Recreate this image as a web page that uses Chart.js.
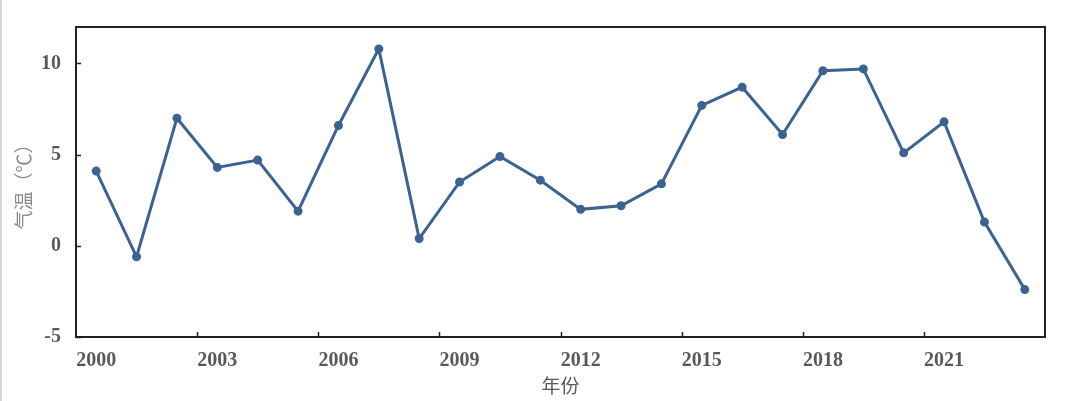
<!DOCTYPE html>
<html lang="zh">
<head>
    <meta charset="UTF-8">
    <title>气温</title>
    <script src="https://cdn.jsdelivr.net/npm/chart.js"></script>
    <style>
        html, body {
            margin: 0;
            padding: 0;
            background: #ffffff;
        }
        body {
            width: 1080px;
            height: 401px;
            overflow: hidden;
            position: relative;
        }
        .edge {
            position: absolute;
            left: 0; top: 0;
            width: 2px; height: 401px;
            background: #d4d4d4;
        }
        #chart-wrap {
            position: absolute;
            left: 0; top: 0;
            width: 1080px;
            height: 401px;
        }
    </style>
</head>
<body>
<div class="edge"></div>
<div id="chart-wrap"><canvas id="temp-chart"></canvas></div>

<script>
    // years on the x axis
    const years = ["2000","2001","2002","2003","2004","2005","2006","2007","2008","2009","2010","2011",
                   "2012","2013","2014","2015","2016","2017","2018","2019","2020","2021","2022","2023"];
    // temperature (°C)
    const temps = [4.1, -0.6, 7.0, 4.3, 4.7, 1.9, 6.6, 10.8, 0.4, 3.5, 4.9, 3.6,
                   2.0, 2.2, 3.4, 7.7, 8.7, 6.1, 9.6, 9.7, 5.1, 6.8, 1.3, -2.4];
    const yTicks = [-5, 0, 5, 10];

    const tickFont = { family: "'Liberation Serif', 'Times New Roman', serif", size: 20, weight: "bold" };
    const grey = "#595959";

    // frame around the plot and the short inward tick marks
    const frameTicks = {
        id: "frameTicks",
        afterDraw(chart) {
            const ctx = chart.ctx;
            const a = chart.chartArea;
            const x = chart.scales.x, y = chart.scales.y;
            ctx.save();
            ctx.strokeStyle = "#222222";
            ctx.lineWidth = 2;
            ctx.strokeRect(a.left, a.top, a.right - a.left, a.bottom - a.top);
            ctx.lineWidth = 1.5;
            ctx.beginPath();
            yTicks.forEach(v => {
                const py = Math.round(y.getPixelForValue(v)) + 0.5;
                ctx.moveTo(a.left, py);
                ctx.lineTo(a.left + 5, py);
            });
            const half = (x.getPixelForValue(1) - x.getPixelForValue(0)) / 2;
            for (let i = 3; i < years.length; i += 3) {
                const px = Math.round(x.getPixelForValue(i) - half) + 0.5;
                ctx.moveTo(px, a.bottom);
                ctx.lineTo(px, a.bottom - 5);
            }
            ctx.stroke();
            ctx.restore();
        }
    };

    new Chart(document.getElementById("temp-chart"), {
        type: "line",
        data: {
            labels: years,
            datasets: [{
                data: temps,
                borderColor: "#3b6291",
                backgroundColor: "#3b6291",
                borderWidth: 3,
                pointRadius: 3,
                pointHoverRadius: 3,
                tension: 0
            }]
        },
        options: {
            responsive: true,
            maintainAspectRatio: false,
            animation: false,
            layout: { padding: { left: 0, right: 35, top: 25, bottom: 0 } },
            plugins: {
                legend: { display: false },
                tooltip: { enabled: false }
            },
            scales: {
                x: {
                    type: "category",
                    offset: true,
                    grid: { display: false, drawTicks: false },
                    border: { display: false },
                    ticks: {
                        autoSkip: false,
                        maxRotation: 0,
                        padding: 12,
                        color: grey,
                        font: tickFont,
                        callback: function(val, idx) { return idx % 3 === 0 ? years[idx] : ""; }
                    },
                    title: {
                        display: true,
                        text: "年份",
                        color: grey,
                        font: { family: "'Noto Sans CJK SC', serif", size: 19 },
                        padding: { top: 0, bottom: 4 }
                    },
                    afterFit: function(s) { s.height = 64; }
                },
                y: {
                    min: -5,
                    max: 12,
                    grid: { display: false, drawTicks: false },
                    border: { display: false },
                    afterBuildTicks: function(s) {
                        s.ticks = yTicks.map(v => ({ value: v }));
                    },
                    ticks: {
                        padding: 15,
                        color: grey,
                        font: tickFont
                    },
                    title: {
                        display: true,
                        text: "气温（℃）",
                        color: "#8a8a8a",
                        font: { family: "'Noto Sans CJK SC', sans-serif", size: 19 },
                        padding: { top: 12, bottom: 0 }
                    },
                    afterFit: function(s) { s.width = 76; }
                }
            }
        },
        plugins: [frameTicks]
    });
</script>
</body>
</html>
